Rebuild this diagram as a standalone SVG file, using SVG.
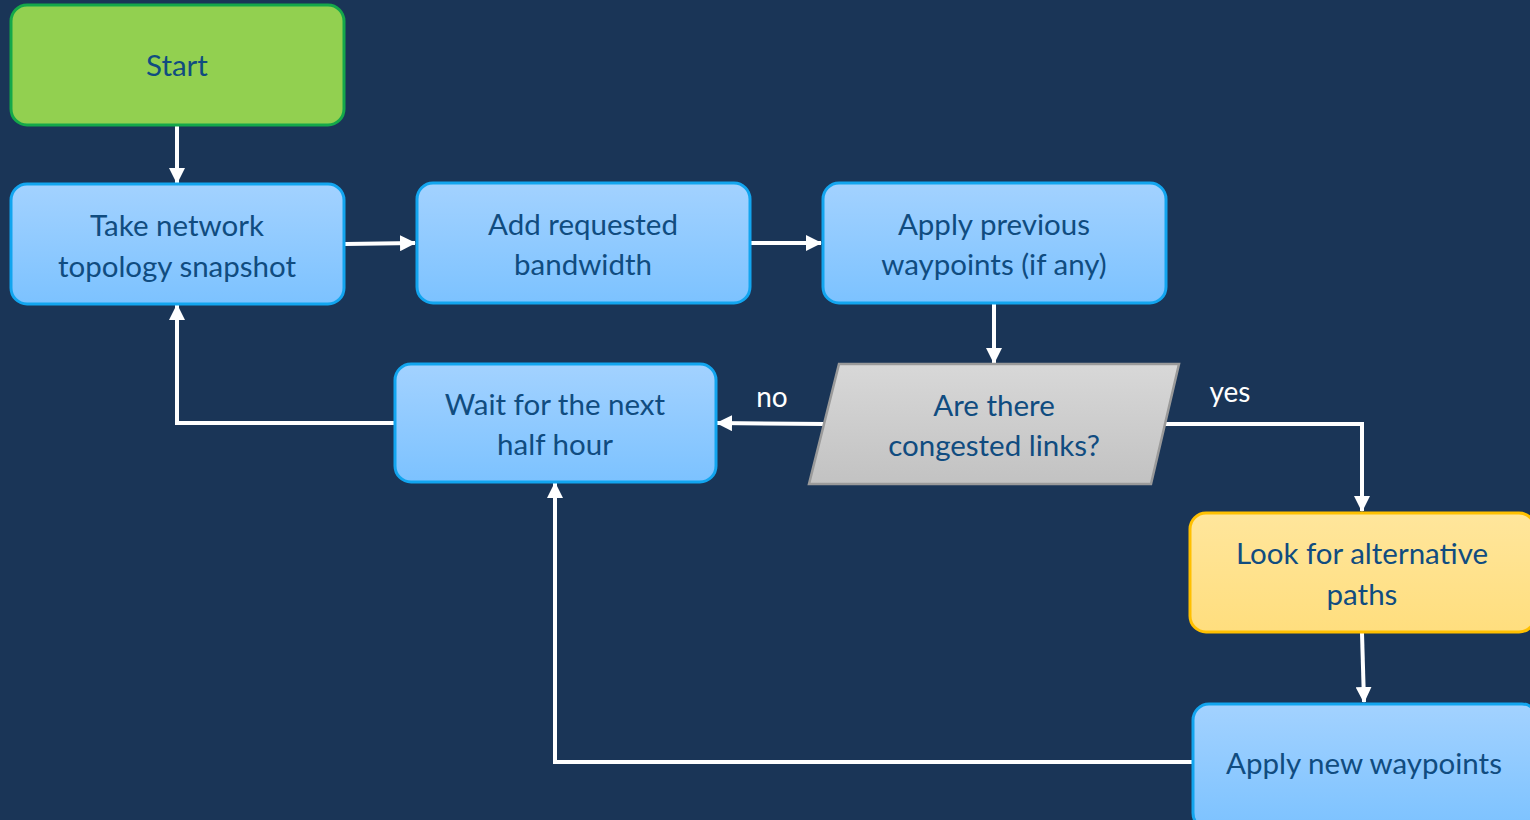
<svg xmlns="http://www.w3.org/2000/svg" width="1530" height="820" viewBox="0 0 1530 820">
<defs>
<linearGradient id="gBlue" x1="0" y1="0" x2="0" y2="1"><stop offset="0" stop-color="#a3d2ff"/><stop offset="1" stop-color="#7cc2ff"/></linearGradient>
<linearGradient id="gYel" x1="0" y1="0" x2="0" y2="1"><stop offset="0" stop-color="#ffe69c"/><stop offset="1" stop-color="#ffde7e"/></linearGradient>
<linearGradient id="gGrey" x1="0" y1="0" x2="0" y2="1"><stop offset="0" stop-color="#d8d8d8"/><stop offset="1" stop-color="#c2c2c2"/></linearGradient>
<marker id="arr" markerUnits="userSpaceOnUse" markerWidth="16" markerHeight="16" viewBox="0 0 16 16" refX="15" refY="8" orient="auto"><path d="M0,0 L16,8 L0,16 Z" fill="#ffffff"/></marker>
<style>
.blue{fill:url(#gBlue);stroke:#12a5ef;stroke-width:3}
.t{font-family:Lato,"Liberation Sans",sans-serif;font-size:29.5px;fill:#104c80;text-anchor:middle;dominant-baseline:central}
.lbl{font-family:Lato,"Liberation Sans",sans-serif;font-size:28px;fill:#ffffff;text-anchor:middle;dominant-baseline:central}
.c{fill:none;stroke:#ffffff;stroke-width:4;marker-end:url(#arr)}
</style>
</defs>
<rect width="1530" height="820" fill="#1a3557"/>
<g id="connectors">
<path class="c" d="M177,126 L177,183"/>
<path class="c" d="M345,244 L415,243"/>
<path class="c" d="M751,243 L821,243"/>
<path class="c" d="M994,304 L994,363"/>
<path class="c" d="M825,424 L717,423"/>
<path class="c" d="M1165,424 L1362,424 L1362,511"/>
<path class="c" d="M1362,633 L1364,702"/>
<path class="c" d="M1193,762 L555,762 L555,483"/>
<path class="c" d="M394,423 L177,423 L177,305"/>
<text class="lbl" x="772" y="396">no</text>
<text class="lbl" x="1230" y="391">yes</text>
</g>
<g id="start">
<rect x="11" y="5" width="333" height="120" rx="16" fill="#92d050" stroke="#14a84a" stroke-width="3"/>
<text class="t" x="177" y="64">Start</text>
</g>
<g id="take">
<rect class="blue" x="11" y="184" width="333" height="120" rx="16"/>
<text class="t" x="177" y="224">Take network</text>
<text class="t" x="177" y="265">topology snapshot</text>
</g>
<g id="add">
<rect class="blue" x="417" y="183" width="333" height="120" rx="16"/>
<text class="t" x="583" y="223">Add requested</text>
<text class="t" x="583" y="263">bandwidth</text>
</g>
<g id="applyprev">
<rect class="blue" x="823" y="183" width="343" height="120" rx="16"/>
<text class="t" x="994" y="223">Apply previous</text>
<text class="t" x="994" y="263">waypoints (if any)</text>
</g>
<g id="decision">
<polygon points="839,364 1179,364 1151,484 809,484" fill="url(#gGrey)" stroke="#9a9a9a" stroke-width="2.5"/>
<text class="t" x="994" y="404">Are there</text>
<text class="t" x="994" y="444">congested links?</text>
</g>
<g id="wait">
<rect class="blue" x="395" y="364" width="321" height="118" rx="16"/>
<text class="t" x="555" y="403">Wait for the next</text>
<text class="t" x="555" y="443">half hour</text>
</g>
<g id="look">
<rect x="1190" y="513" width="345" height="119" rx="16" fill="url(#gYel)" stroke="#ffc000" stroke-width="3"/>
<text class="t" x="1362" y="552">Look for alternative</text>
<text class="t" x="1362" y="593">paths</text>
</g>
<g id="applynew">
<rect class="blue" x="1193" y="704" width="345" height="125" rx="16"/>
<text class="t" x="1364" y="762">Apply new waypoints</text>
</g>
</svg>
